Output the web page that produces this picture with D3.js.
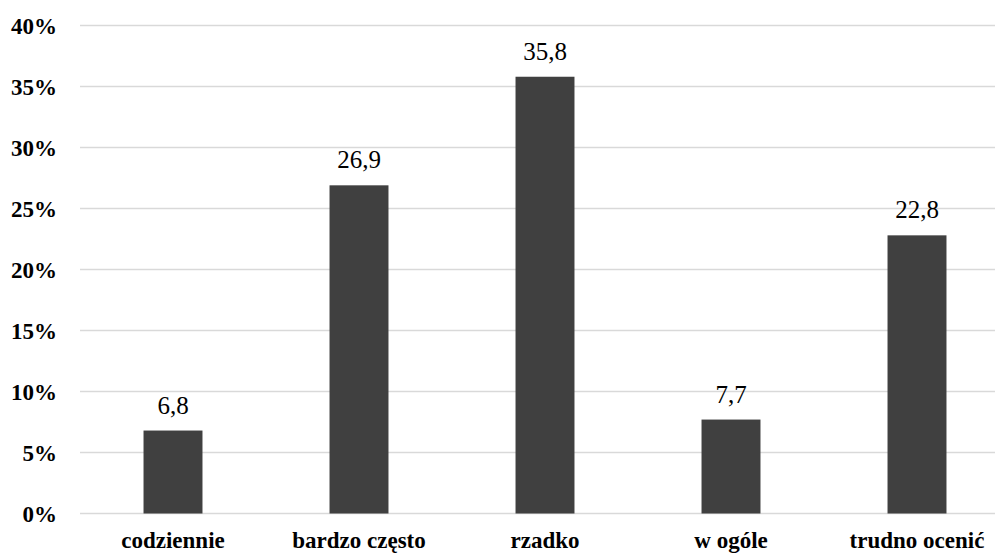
<!DOCTYPE html>
<html>
<head>
<meta charset="utf-8">
<script src="https://cdn.jsdelivr.net/npm/d3@7"></script>
<style>
  html, body { margin: 0; padding: 0; background: #fff; }
  svg { display: block; }
</style>
</head>
<body>
<svg id="chart" width="995" height="553"></svg>
<script>
// Categories and their percentage values
const categories = ["codziennie", "bardzo często", "rzadko", "w ogóle", "trudno ocenić"];
const values = [6.8, 26.9, 35.8, 7.7, 22.8];
const yTicks = [0, 5, 10, 15, 20, 25, 30, 35, 40];

const svg = d3.select("#chart");
const W = 995, H = 553;
const plotLeft = 80, plotRight = 1010, plotTop = 25.5, plotBottom = 513.5;
const serif = "'Liberation Serif', 'Times New Roman', Times, serif";

const x = d3.scaleBand()
  .domain(categories)
  .range([plotLeft, plotRight])
  .paddingInner(0.683)
  .paddingOuter(0.3415);

const y = d3.scaleLinear().domain([0, 40]).range([plotBottom, plotTop]);

const fmt = d => d.toFixed(1).replace(".", ",");

// Horizontal gridlines
svg.append("g")
  .selectAll("line")
  .data(yTicks)
  .join("line")
  .attr("x1", plotLeft)
  .attr("x2", W)
  .attr("y1", d => y(d))
  .attr("y2", d => y(d))
  .attr("stroke", "#d9d9d9")
  .attr("stroke-width", 1.5);

// Y axis labels
const yAxis = d3.axisLeft(y).tickValues(yTicks).tickFormat(d => d + "%").tickSize(0).tickPadding(0);
const gy = svg.append("g").attr("transform", "translate(57,0)").call(yAxis);
gy.select(".domain").remove();
gy.selectAll("text")
  .attr("font-family", serif)
  .attr("font-weight", "bold")
  .attr("font-size", 23)
  .attr("fill", "#000")
  .attr("dy", "0.35em");

// Bars
svg.append("g")
  .selectAll("rect")
  .data(values)
  .join("rect")
  .attr("x", (d, i) => x(categories[i]))
  .attr("width", x.bandwidth())
  .attr("y", d => y(d))
  .attr("height", d => y(0) - y(d))
  .attr("fill", "#404040");

// Value labels above bars
svg.append("g")
  .selectAll("text")
  .data(values)
  .join("text")
  .attr("x", (d, i) => x(categories[i]) + x.bandwidth() / 2)
  .attr("y", d => y(d) - 17)
  .attr("text-anchor", "middle")
  .attr("font-family", serif)
  .attr("font-size", 25)
  .attr("fill", "#000")
  .text(fmt);

// Category labels
const xAxis = d3.axisBottom(x).tickSize(0).tickPadding(0);
const gx = svg.append("g").attr("transform", "translate(0,548)").call(xAxis);
gx.select(".domain").remove();
gx.selectAll("text")
  .attr("font-family", serif)
  .attr("font-weight", "bold")
  .attr("font-size", 23)
  .attr("fill", "#000")
  .attr("dy", 0);
</script>
</body>
</html>
